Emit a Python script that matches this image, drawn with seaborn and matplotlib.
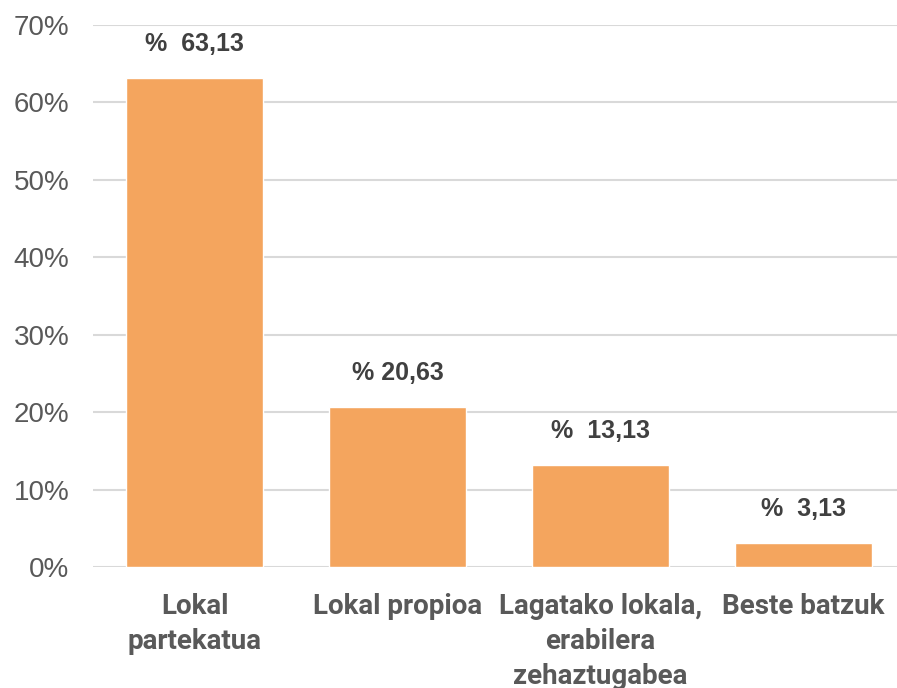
import matplotlib
matplotlib.use('Agg')
import matplotlib.pyplot as plt
import seaborn as sns
import pandas as pd
from matplotlib.ticker import PercentFormatter

categories = ['Lokal\npartekatua', 'Lokal propioa', 'Lagatako lokala,\nerabilera\nzehaztugabea', 'Beste batzuk']
values = [63.13, 20.63, 13.13, 3.13]
labels = ['%  63,13', '% 20,63', '%  13,13', '%  3,13']

df = pd.DataFrame({'cat': categories, 'val': [v / 100 for v in values]})

sns.set_theme(style='white')
plt.rcParams['font.family'] = ['Liberation Sans', 'DejaVu Sans']

fig = plt.figure(figsize=(8.97, 6.88), dpi=100)
ax = fig.add_axes([93 / 897, 1 - 567 / 688, 1 - 93 / 897, (567 - 25) / 688])

sns.barplot(data=df, x='cat', y='val', color='#F4A55E', width=0.675, saturation=1, ax=ax)

ax.set_ylim(0, 0.70)
ax.set_xlim(-0.5, 3.46)
ax.set_yticks([i / 10 for i in range(8)])
ax.yaxis.set_major_formatter(PercentFormatter(1.0, decimals=0))
ax.grid(axis='y', color='#d9d9d9', linewidth=1.5)
ax.set_axisbelow(True)
for s in ax.spines.values():
    s.set_visible(False)
ax.set_xlabel('')
ax.set_ylabel('')
ax.tick_params(axis='y', length=0, pad=17, labelsize=20, labelcolor='#595959')
ax.tick_params(axis='x', length=0, pad=19)
for t in ax.get_xticklabels():
    t.set_fontfamily(['Roboto', 'Liberation Sans'])
    t.set_fontweight('bold')
    t.set_fontsize(20)
    t.set_color('#595959')
    t.set_linespacing(1.36)

for i, (v, lab) in enumerate(zip(values, labels)):
    ax.annotate(lab, (i, v / 100), xytext=(0, 16), textcoords='offset points',
                ha='center', va='bottom', fontsize=18, fontweight='bold', color='#404040')

fig.savefig('out.png', dpi=100)
